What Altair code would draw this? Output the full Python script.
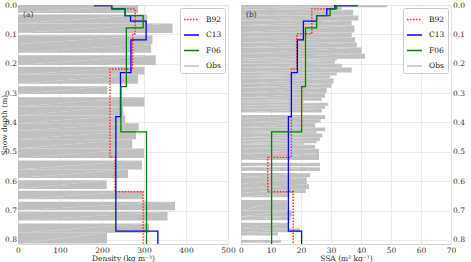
import altair as alt
import pandas as pd

# ---------------- Observations (layer top, layer bottom, value) ----------------
rho_top = [0.0, 0.032, 0.063, 0.103, 0.133, 0.171, 0.210, 0.237, 0.277, 0.314, 0.346, 0.376,
           0.403, 0.428, 0.457, 0.489, 0.530, 0.560, 0.597, 0.633, 0.670, 0.704, 0.744, 0.776]
rho_bot = [0.027, 0.063, 0.095, 0.133, 0.163, 0.204, 0.237, 0.268, 0.303, 0.346, 0.376, 0.403,
           0.428, 0.457, 0.489, 0.521, 0.560, 0.589, 0.627, 0.662, 0.699, 0.734, 0.776, 0.812]
rho_obs = [286, 307, 368, 320, 317, 328, 301, 286, 213, 301, 251, 255,
           287, 281, 272, 300, 295, 262, 211, 298, 374, 356, 312, 212]

ssa_top = [0.0, 0.0075, 0.016, 0.036, 0.053, 0.070, 0.094, 0.110, 0.128, 0.145, 0.166, 0.183,
           0.190, 0.200, 0.213, 0.230, 0.240, 0.250, 0.268, 0.282, 0.299, 0.316, 0.326, 0.333,
           0.343, 0.353, 0.375, 0.388, 0.400, 0.417, 0.430, 0.437, 0.451, 0.462, 0.471, 0.476,
           0.490, 0.507, 0.537, 0.553, 0.572, 0.587, 0.610, 0.627, 0.640, 0.664, 0.700, 0.720,
           0.742, 0.760, 0.774, 0.800]
ssa_bot = [0.0075, 0.016, 0.036, 0.053, 0.070, 0.094, 0.110, 0.128, 0.145, 0.166, 0.183, 0.190,
           0.200, 0.213, 0.230, 0.240, 0.250, 0.268, 0.282, 0.299, 0.316, 0.326, 0.333, 0.343,
           0.353, 0.366, 0.388, 0.400, 0.417, 0.430, 0.437, 0.451, 0.462, 0.471, 0.476, 0.490,
           0.507, 0.528, 0.549, 0.565, 0.587, 0.610, 0.627, 0.640, 0.655, 0.700, 0.720, 0.733,
           0.760, 0.774, 0.785, 0.810]
ssa_obs = [48.6, 33.6, 37.4, 39.1, 36.9, 37.8, 36.9, 38.0, 38.6, 40.2, 41.3, 31.9,
           31.3, 33.6, 36.9, 31.9, 29.7, 30.8, 30.2, 28.6, 28.0, 26.9, 20.8, 29.1,
           28.0, 26.9, 28.0, 26.5, 24.7, 28.0, 25.2, 27.1, 26.3, 25.2, 21.1, 24.7,
           26.0, 26.0, 26.3, 26.3, 23.0, 21.9, 22.7, 21.6, 16.0, 15.5, 17.0, 16.5,
           16.0, 19.7, 12.3, 13.3]

# ---------------- Model layers (boundaries, values) ----------------
b92_bounds = [0.0, 0.002, 0.013, 0.098, 0.218, 0.519, 0.636, 0.814]
b92_rho = [183, 223, 279, 273, 219, 231, 298]
b92_ssa = [38.6, 31.3, 23.6, 18.6, 16.8, 8.9, 17.4]

c13_bounds = [0.0, 0.002, 0.013, 0.036, 0.055, 0.119, 0.230, 0.380, 0.770, 0.814]
c13_rho = [183, 223, 255, 268, 305, 269, 244, 233, 333]
c13_ssa = [38.6, 31.3, 28.6, 25.2, 20.8, 18.8, 16.8, 15.8, 20.2]

f06_bounds = [0.0, 0.002, 0.013, 0.036, 0.078, 0.278, 0.432, 0.814]
f06_rho = [183, 223, 255, 298, 258, 245, 306]
f06_ssa = [38.6, 31.9, 29.7, 25.2, 21.5, 20.2, 10.2]

series_names = ["B92", "C13", "F06", "Obs"]
series_colors = ["#ff2020", "#0000ff", "#008000", "#c0c0c0"]
series_dash = [[1.5, 1.5], [1, 0], [1, 0], [1, 0]]
series_width = [1.3, 1.3, 1.3, 2.6]

FONT = "DejaVu Serif"
FS = 7.5
DEPTH_MAX = 0.814
W, H = 210, 239
GRAY = "#c0c0c0"
EPS = 1e-5  # keeps the two corners of a step edge at distinct depths


def steps(bounds, vals, name):
    rows = []
    k = 0
    for i, v in enumerate(vals):
        rows.append({"series": name, "val": v, "depth": bounds[i], "k": k}); k += 1
        rows.append({"series": name, "val": v, "depth": bounds[i + 1], "k": k}); k += 1
    return rows


def obs_profile(tops, bots, vals):
    # one outline: each layer's value between its top and bottom, zero across gaps
    rows = [{"depth": tops[0], "val": 0.0}]
    for i, v in enumerate(vals):
        rows.append({"depth": tops[i] + EPS, "val": v})
        rows.append({"depth": bots[i] - EPS, "val": v})
        if i + 1 < len(vals) and tops[i + 1] - bots[i] > 1e-6:
            rows.append({"depth": bots[i], "val": 0.0})
            rows.append({"depth": tops[i + 1], "val": 0.0})
    rows.append({"depth": bots[-1], "val": 0.0})
    for k, r in enumerate(rows):
        r["k"] = k
    return pd.DataFrame(rows)


def panel(obs_top, obs_bot, obs_val, b92, c13, f06, xdom, xticks, xtitle, label, yorient, ytitle):
    obs_df = obs_profile(obs_top, obs_bot, obs_val)
    line_df = pd.DataFrame(steps(b92_bounds, b92, "B92") + steps(c13_bounds, c13, "C13")
                           + steps(f06_bounds, f06, "F06"))
    xs = alt.Scale(domain=xdom, nice=False, zero=False)
    ys = alt.Scale(domain=[0, DEPTH_MAX], reverse=True, nice=False, zero=False)
    yaxis_kw = dict(values=[0, 0.1, 0.2, 0.3, 0.4, 0.5, 0.6, 0.7, 0.8], format=".1f",
                    orient=yorient, labelOverlap=False, labelPadding=1.5)
    if ytitle:
        yaxis_kw["title"] = ytitle
        yaxis_kw["titlePadding"] = -4
    else:
        yaxis_kw["title"] = None
    yaxis = alt.Axis(**yaxis_kw)
    xaxis = alt.Axis(values=xticks, tickCount=len(xticks), title=xtitle, labelFlush=False,
                     titlePadding=1, labelOverlap=False, labelSeparation=0)

    bars = alt.Chart(obs_df).mark_area(color=GRAY, opacity=1, orient="horizontal",
                                       interpolate="linear").encode(
        x=alt.X("val:Q", scale=xs, axis=xaxis),
        y=alt.Y("depth:Q", scale=ys, axis=yaxis),
        order=alt.Order("k:Q"),
    )
    lines = alt.Chart(line_df).mark_line(interpolate="linear").encode(
        x=alt.X("val:Q", scale=xs, axis=xaxis),
        y=alt.Y("depth:Q", scale=ys, axis=yaxis),
        order=alt.Order("k:Q"),
        color=alt.Color("series:N",
                        scale=alt.Scale(domain=series_names, range=series_colors),
                        legend=alt.Legend(title=None, orient="top-right", offset=3,
                                          symbolType="stroke", symbolSize=225,
                                          labelFont=FONT, labelFontSize=FS, labelColor="#222",
                                          labelOffset=6, rowPadding=3.5, padding=3,
                                          fillColor="white", strokeColor="#cccccc",
                                          cornerRadius=2)),
        strokeDash=alt.StrokeDash("series:N",
                                  scale=alt.Scale(domain=series_names, range=series_dash),
                                  legend=alt.Legend(title=None)),
        strokeWidth=alt.StrokeWidth("series:N",
                                    scale=alt.Scale(domain=series_names, range=series_width),
                                    legend=alt.Legend(title=None)),
    )
    lab = alt.Chart(pd.DataFrame({"t": [label]})).mark_text(
        align="left", baseline="middle", font=FONT, fontSize=FS, color="#333"
    ).encode(x=alt.value(5), y=alt.value(10), text="t:N")
    return alt.layer(bars, lines, lab).properties(width=W, height=H)


pa = panel(rho_top, rho_bot, rho_obs, b92_rho, c13_rho, f06_rho,
           [0, 500], [0, 100, 200, 300, 400, 500], "Density (kg m\u207b\u00b3)", "(a)",
           "left", "Snow depth (m)")
pb = panel(ssa_top, ssa_bot, ssa_obs, b92_ssa, c13_ssa, f06_ssa,
           [0, 70], [0, 10, 20, 30, 40, 50, 60, 70], "SSA (m\u00b2  kg\u207b\u00b9)", "(b)",
           "right", None)

chart = alt.hconcat(pa, pb, spacing=13, bounds="flush").resolve_scale(
    color="independent", strokeDash="independent", strokeWidth="independent"
).resolve_legend(
    color="independent", strokeDash="independent", strokeWidth="independent"
).properties(
    padding={"left": 0, "top": 0, "right": 3, "bottom": 0}
).configure_view(
    stroke="#d4d4d4", strokeWidth=1
).configure_axis(
    domain=False, ticks=False, grid=True, gridColor="#e6e6e6", gridWidth=0.8,
    labelFont=FONT, labelFontSize=FS, labelColor="#333", labelPadding=2,
    labelOverlap=False,
    titleFont=FONT, titleFontSize=FS, titleFontWeight="normal", titleColor="#333"
)

chart.save("out.html", embed_options={"renderer": "svg", "actions": False})
